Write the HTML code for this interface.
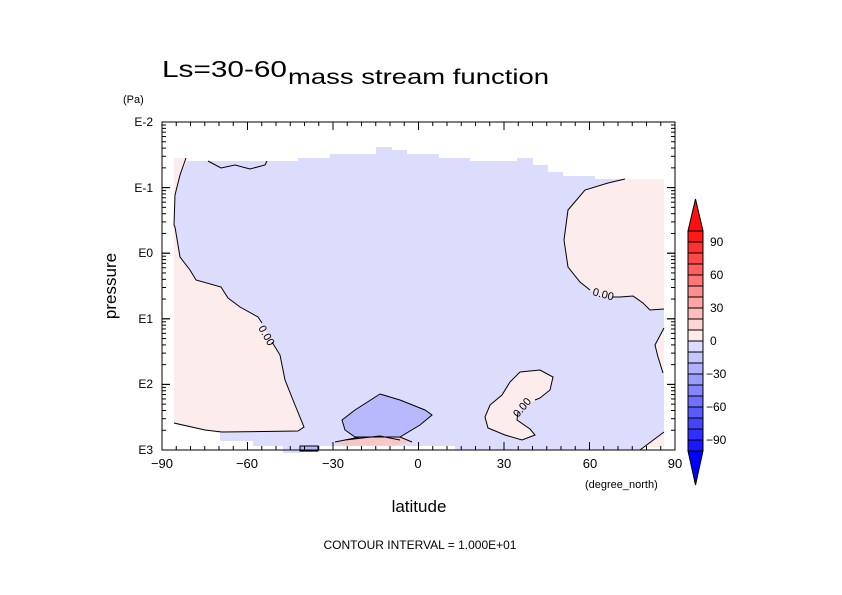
<!DOCTYPE html>
<html><head><meta charset="utf-8"><style>
html,body{margin:0;padding:0;background:#fff;}
svg{display:block;}
text{font-family:"Liberation Sans",sans-serif;fill:#000;}
</style></head><body>
<svg id="s" width="842" height="595" viewBox="0 0 842 595" xmlns="http://www.w3.org/2000/svg">
<rect width="842" height="595" fill="#fff"/>
<polygon fill="#dcdcfc" points="186,161 298,161 298,158 330,158 330,154 376,154 376,147 392,147 392,150 407,150 407,154 439,154 439,158 470,158 470,161 517,161 517,158 533,158 533,165 548,165 548,172 563,172 563,176 595,176 595,179 664,179 664,432 640,450 455,450 455,446 300,446 300,453 283,453 283,446 253,446 253,441 220,441 220,433 174,424 174,195 180,175"/>
<polygon fill="#fdecec" points="174,158 189,158 180,175 175,195 174,225 175,227 180,257 190,270 196,280 221,287 228,298 240,307 258,317 262,325 270,338 280,355 285,380 295,405 304,427 298,431 222,432 205,430 174,423"/>
<polygon fill="#fdecec" points="625,179 664,179 664,309 650,310 643,303 633,296 620,297 600,296 590,290 580,282 568,267 564,240 568,210 585,190 608,183"/>
<polygon fill="#fdecec" points="664,328 655,345 658,357 663,373 664,374"/>
<polygon fill="#fdecec" points="520,372 540,370 553,377 550,390 540,398 528,404 518,412 517,420 530,429 535,435 522,440 505,435 488,428 485,417 490,405 502,395 510,382"/>
<polygon fill="#fdecec" points="664,432 645,447 664,447"/>
<polygon fill="#b8b8fc" points="342,420 355,410 380,394 400,400 425,410 432,415 420,425 400,437 355,437 345,430"/>
<rect x="300" y="446" width="18" height="6" fill="#b8b8fc"/>
<polygon fill="#f8c8c8" points="335,442 360,437 400,437 410,442 395,445 345,446"/>
<g fill="none" stroke="#000" stroke-width="1">
<polyline points="186,158 180,175 175,195 174,225 175,227 180,257 190,270 196,280 221,287 228,298 240,307 258,317 262,323"/>
<polyline points="272,342 280,355 285,380 295,405 304,427 298,431 222,432 205,430"/>
<polyline points="208,161 221,168 235,165 250,169 265,165 267,161"/>
<polyline points="625,179 608,183 585,190 568,210 564,240 568,267 580,282 590,290"/>
<polyline points="613,297 620,297 633,296 643,303 650,310 664,309"/>
<polyline points="664,328 655,345 658,357 663,373"/>
<polyline points="520,372 540,370 553,377 550,390 540,398 535,400"/>
<polyline points="518,412 517,420 530,429 535,435 522,440 505,435 488,428 485,417 490,405 502,395 510,382 520,372"/>
<polygon points="342,420 355,410 380,394 400,400 425,410 432,415 420,425 400,437 355,437 345,430"/>
<rect x="300" y="446" width="18" height="5"/>
<polyline points="335,442 360,437 400,437 412,442"/>
<polyline points="345,440 380,436 400,440"/>
<polyline points="640,450 664,432"/>
<polyline points="174,423 205,430"/>
</g>
<text x="0" y="0" font-size="11" transform="translate(258,328) rotate(60)">0.00</text>
<text x="0" y="0" font-size="11" transform="translate(592,295) rotate(15)">0.00</text>
<text x="0" y="0" font-size="11" transform="translate(518,418) rotate(-50)">0.00</text>
<rect x="162" y="122" width="513" height="328" fill="none" stroke="#000" stroke-width="1"/>
<g id="ticks" stroke="#000" stroke-width="1"></g>
<text x="162" y="77" font-size="23" textLength="125" lengthAdjust="spacingAndGlyphs">Ls=30-60</text>
<text x="288" y="84" font-size="21" textLength="261" lengthAdjust="spacingAndGlyphs">mass stream function</text>
<text x="123" y="103" font-size="11">(Pa)</text>
<g font-size="12" text-anchor="end">
<text x="153" y="126">E-2</text><text x="153" y="192">E-1</text><text x="153" y="257">E0</text><text x="153" y="323">E1</text><text x="153" y="388">E2</text><text x="153" y="454">E3</text>
</g>
<g font-size="13" text-anchor="middle">
<text x="162" y="468">−90</text><text x="247" y="468">−60</text><text x="333" y="468">−30</text><text x="418" y="468">0</text><text x="504" y="468">30</text><text x="590" y="468">60</text><text x="675" y="468">90</text>
</g>
<text x="585" y="488" font-size="11">(degree_north)</text>
<text x="419" y="512" font-size="17" text-anchor="middle">latitude</text>
<text transform="translate(116,286) rotate(-90)" font-size="17" text-anchor="middle">pressure</text>
<text x="420" y="549" font-size="12" text-anchor="middle">CONTOUR INTERVAL = 1.000E+01</text>
<g id="cb" stroke="#000" stroke-width="1"></g>
<g font-size="12">
<text x="710" y="246">90</text><text x="710" y="279">60</text><text x="710" y="312">30</text><text x="710" y="345">0</text>
<text x="706" y="378">−30</text><text x="706" y="411">−60</text><text x="706" y="444">−90</text>
</g>
</svg>
<script>
(function(){
var ns="http://www.w3.org/2000/svg";
function ln(g,x1,y1,x2,y2){var l=document.createElementNS(ns,"line");l.setAttribute("x1",x1);l.setAttribute("y1",y1);l.setAttribute("x2",x2);l.setAttribute("y2",y2);g.appendChild(l);}
var t=document.getElementById("ticks");
for(var d=-90;d<=90;d+=5){var x=162+(d+90)*513/180;var L=(d%30==0)?8:4;ln(t,x,450,x,450-L);ln(t,x,122,x,122+L);}
var dec=65.6;
for(var e=0;e<5;e++){for(var m=1;m<=10;m++){var y=450-(e*dec+Math.log10(m)*dec);var L=(m==1||m==10)?8:4;ln(t,162,y,162+L,y);ln(t,675,y,675-L,y);}}
var cb=document.getElementById("cb");
var cols=[];
for(var i=0;i<10;i++){var f=i/9;var g=Math.round(25+f*(235-25));cols.push("rgb(255,"+g+","+g+")");}
for(var i=0;i<10;i++){var f=i/9;var g=Math.round(220-f*(220-25));cols.push("rgb("+g+","+g+",255)");}
var x0=688,w=15,y0=231,h=11;
var tri=document.createElementNS(ns,"polygon");tri.setAttribute("points",x0+","+y0+" "+(x0+w)+","+y0+" "+(x0+w/2)+",199");tri.setAttribute("fill","#ff1010");cb.appendChild(tri);
for(var i=0;i<20;i++){var r=document.createElementNS(ns,"rect");r.setAttribute("x",x0);r.setAttribute("y",y0+i*h);r.setAttribute("width",w);r.setAttribute("height",h);r.setAttribute("fill",cols[i]);cb.appendChild(r);}
var bot=document.createElementNS(ns,"polygon");bot.setAttribute("points",x0+","+(y0+220)+" "+(x0+w)+","+(y0+220)+" "+(x0+w/2)+",485");bot.setAttribute("fill","#0000ff");cb.appendChild(bot);
})();
</script>
</body></html>
